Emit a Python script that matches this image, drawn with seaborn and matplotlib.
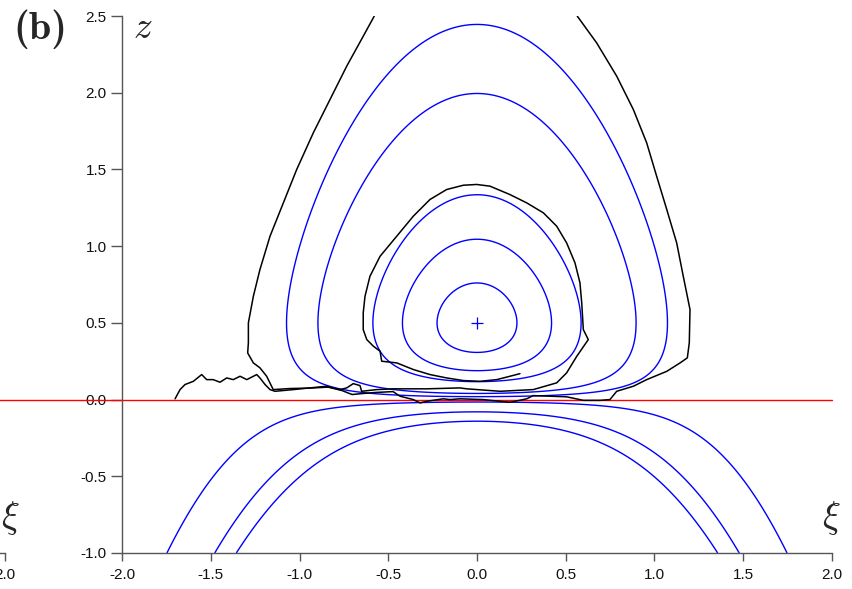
import numpy as np
import pandas as pd
import matplotlib
matplotlib.use("Agg")
import matplotlib.pyplot as plt
import seaborn as sns

# Heights where the plotted streamlines cross the symmetry axis xi = 0
z_closed = [0.76, 1.045, 1.335, 1.995, 2.445]   # closed orbits around the vortex (upper crossing)
z_open = [-0.016, -0.080, -0.141]               # open streamlines below the interface
vortex_xi, vortex_z = 0.0, 0.5

# Noisy trajectory passing round the vortex from above
outer_xi = [-0.579, -0.641, -0.734, -0.828, -0.922, -1.016, -1.091, -1.166, -1.223, -1.260,
            -1.288, -1.288, -1.292, -1.260, -1.223, -1.185, -1.148, -1.054, -0.941, -0.839,
            -0.761, -0.704, -0.648, -0.575, -0.473, -0.434, -0.359, -0.321, -0.283, -0.190,
            -0.152, -0.096, 0.035, 0.186, 0.280, 0.317, 0.411, 0.505, 0.599, 0.693,
            0.749, 0.787, 0.881, 0.956, 1.069, 1.144, 1.185, 1.196, 1.200, 1.162,
            1.125, 1.069, 1.012, 0.956, 0.881, 0.787, 0.674, 0.565]
outer_z = [2.499, 2.368, 2.173, 1.956, 1.739, 1.499, 1.282, 1.065, 0.847, 0.673,
           0.500, 0.370, 0.304, 0.239, 0.207, 0.152, 0.065, 0.072, 0.075, 0.081,
           0.059, 0.033, 0.039, 0.046, 0.052, 0.022, 0.000, -0.022, -0.011, 0.005,
           0.000, 0.005, 0.000, -0.018, 0.005, 0.026, 0.022, 0.018, -0.005, -0.005,
           0.000, 0.054, 0.087, 0.130, 0.184, 0.239, 0.272, 0.370, 0.587, 0.804,
           1.021, 1.239, 1.456, 1.673, 1.890, 2.108, 2.325, 2.499]

# Noisy trajectory released on the interface and captured by the vortex
inner_xi = [-1.701, -1.673, -1.645, -1.598, -1.551, -1.523, -1.486, -1.448, -1.410, -1.373,
            -1.335, -1.297, -1.241, -1.223, -1.194, -1.166, -1.138, -1.035, -0.941, -0.847,
            -0.772, -0.734, -0.697, -0.659, -0.650, -0.565, -0.472, -0.283, -0.096, -0.058,
            0.130, 0.317, 0.449, 0.505, 0.562, 0.627, 0.599, 0.590, 0.580, 0.552,
            0.505, 0.449, 0.374, 0.280, 0.186, 0.073, -0.002, -0.077, -0.171, -0.265,
            -0.359, -0.452, -0.546, -0.603, -0.631, -0.641, -0.641, -0.621, -0.584, -0.546,
            -0.537, -0.452, -0.359, -0.265, -0.171, -0.077, 0.017, 0.111, 0.186, 0.242]
inner_z = [0.005, 0.065, 0.098, 0.119, 0.163, 0.130, 0.130, 0.113, 0.141, 0.130,
           0.152, 0.130, 0.163, 0.141, 0.098, 0.065, 0.054, 0.065, 0.076, 0.087,
           0.065, 0.076, 0.104, 0.091, 0.054, 0.065, 0.070, 0.070, 0.076, 0.070,
           0.054, 0.065, 0.109, 0.174, 0.282, 0.391, 0.456, 0.630, 0.761, 0.891,
           1.021, 1.130, 1.217, 1.282, 1.336, 1.391, 1.402, 1.397, 1.369, 1.304,
           1.195, 1.065, 0.934, 0.804, 0.673, 0.565, 0.456, 0.391, 0.348, 0.315,
           0.250, 0.239, 0.196, 0.163, 0.141, 0.124, 0.119, 0.130, 0.152, 0.169]

xticks = [-2.0, -1.5, -1.0, -0.5, 0.0, 0.5, 1.0, 1.5, 2.0]
yticks = [-1.0, -0.5, 0.0, 0.5, 1.0, 1.5, 2.0, 2.5]
xlim = (-2.0, 2.0)
ylim = (-1.0, 2.5)

sns.set_theme(style="white")
plt.rcParams.update({
    "font.family": ["Liberation Sans", "DejaVu Sans"],
    "mathtext.fontset": "cm",
    "axes.unicode_minus": False,
    "axes.edgecolor": "#555555",
    "axes.linewidth": 1.0,
    "xtick.color": "#555555",
    "ytick.color": "#555555",
    "xtick.labelcolor": "#111111",
    "ytick.labelcolor": "#111111",
    "contour.negative_linestyle": "solid",
})


def stream(xi, z):
    """Stream function of the vortex flow in the (xi, z) plane."""
    return z * np.exp(-2.0 * z - 2.0 * xi ** 2)


W, H = 853, 589
fig = plt.figure(figsize=(W / 100, H / 100), dpi=100)
fig.patch.set_facecolor("white")
ax = fig.add_axes([122 / W, 36 / H, 710 / W, 537 / H])
# right edge of the neighbouring panel
ax0 = fig.add_axes([(5 - 710) / W, 36 / H, 710 / W, 537 / H])


def style_axis(a, show_y=True):
    a.set_xlim(*xlim)
    a.set_ylim(*ylim)
    a.set_facecolor("none")
    a.set_xticks(xticks)
    a.set_xticklabels([f"{t:.1f}" for t in xticks])
    a.tick_params(axis="x", direction="out", length=5.5, width=1.0, pad=5.5,
                  labelsize=11, bottom=True)
    if show_y:
        a.set_yticks(yticks)
        a.set_yticklabels([f"{t:.1f}" for t in yticks])
        a.tick_params(axis="y", direction="out", length=8, width=1.0, pad=3,
                      labelsize=11, left=True)
    else:
        a.set_yticks([])
    for side in ("top", "right"):
        a.spines[side].set_visible(False)
    a.spines["left"].set_visible(show_y)
    a.grid(False)


style_axis(ax)
style_axis(ax0, show_y=False)

# streamlines as contours of the stream function
xi_grid = np.linspace(-2.0, 2.0, 801)
z_grid = np.linspace(-1.0, 2.5, 701)
XI, Z = np.meshgrid(xi_grid, z_grid)
PSI = stream(XI, Z)
levels = sorted(stream(0.0, np.array(z_closed + z_open)))
ax.contour(XI, Z, PSI, levels=levels, colors="blue", linewidths=1.0,
           linestyles="solid")
ax.plot([vortex_xi], [vortex_z], marker="+", color="blue", ms=9, mew=0.9, ls="none")

# interface z = 0
ax.axhline(0.0, xmin=-0.18, xmax=1.0, color="red", lw=1.0, clip_on=False, zorder=2)

# stochastic trajectories
outer = pd.DataFrame({"xi": outer_xi, "z": outer_z})
inner = pd.DataFrame({"xi": inner_xi, "z": inner_z})
for df in (outer, inner):
    sns.lineplot(data=df, x="xi", y="z", sort=False, estimator=None, color="black",
                 lw=1.1, ax=ax, zorder=3)
ax.set_xlabel("")
ax.set_ylabel("")

fig.text(13 / W, 1 - 29 / H, "(b)", fontfamily="cmb10", fontsize=29,
         ha="left", va="center")
fig.text(143 / W, 1 - 28 / H, r"$z$", fontsize=27, ha="center", va="center")
fig.text(831 / W, 1 - 518 / H, r"$\xi$", fontsize=27, ha="center", va="center")
fig.text(10.5 / W, 1 - 518 / H, r"$\xi$", fontsize=27, ha="center", va="center")

fig.savefig("out.png", dpi=100)
